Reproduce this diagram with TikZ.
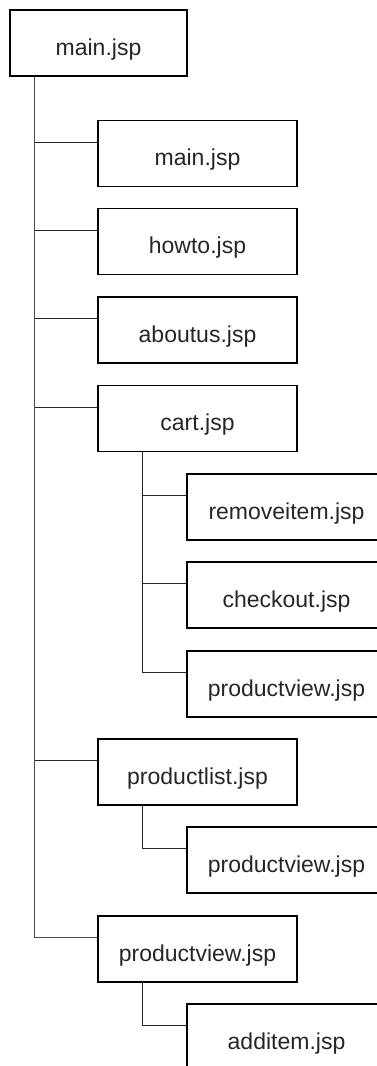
\documentclass[tikz,border=0pt]{standalone}
\usepackage{fontspec}
\setmainfont{Liberation Sans}
\begin{document}
\begin{tikzpicture}[x=1pt,y=-1pt,
  box/.style={draw=black,line width=1.1pt,minimum width=199pt,minimum height=66pt,inner sep=0pt,text height=24pt,text depth=0pt,font=\fontsize{23}{27}\selectfont,text=black!85},
  rootbox/.style={box,minimum width=177pt},
  conn/.style={draw=black!85,line width=0.9pt},
  thin/.style={draw=black!70,line width=0.6pt}]
\useasboundingbox (0,0) rectangle (377,1066);
\clip (0,0) rectangle (377,1066);
\node[rootbox] (root) at (98.5,43) {main.jsp};
\node[box] (m) at (197.5,153.5) {main.jsp};
\node[box] (h) at (197.5,241.5) {howto.jsp};
\node[box] (a) at (197.5,330) {aboutus.jsp};
\node[box] (c) at (197.5,418.5) {cart.jsp};
\node[box] (cr) at (286.5,507) {removeitem.jsp};
\node[box] (cc) at (286.5,595) {checkout.jsp};
\node[box] (cp) at (286.5,684) {productview.jsp};
\node[box] (pl) at (197.5,772) {productlist.jsp};
\node[box] (plp) at (286.5,860) {productview.jsp};
\node[box] (pv) at (197.5,949) {productview.jsp};
\node[box] (pva) at (286.5,1037) {additem.jsp};
\foreach \n in {m,h,a,c,pl}
  \draw[conn] ([xshift=25pt]root.south west) |- ([yshift=-22pt]\n.north west);
\draw[thin] ([xshift=25pt]root.south west) |- ([yshift=-22pt]pv.north west);
\foreach \n in {cr,cc,cp}
  \draw[conn] ([xshift=45pt]c.south west) |- ([yshift=-22pt]\n.north west);
\draw[conn] ([xshift=45pt]pl.south west) |- ([yshift=-22pt]plp.north west);
\draw[conn] ([xshift=45pt]pv.south west) |- ([yshift=-22pt]pva.north west);
\end{tikzpicture}
\end{document}
